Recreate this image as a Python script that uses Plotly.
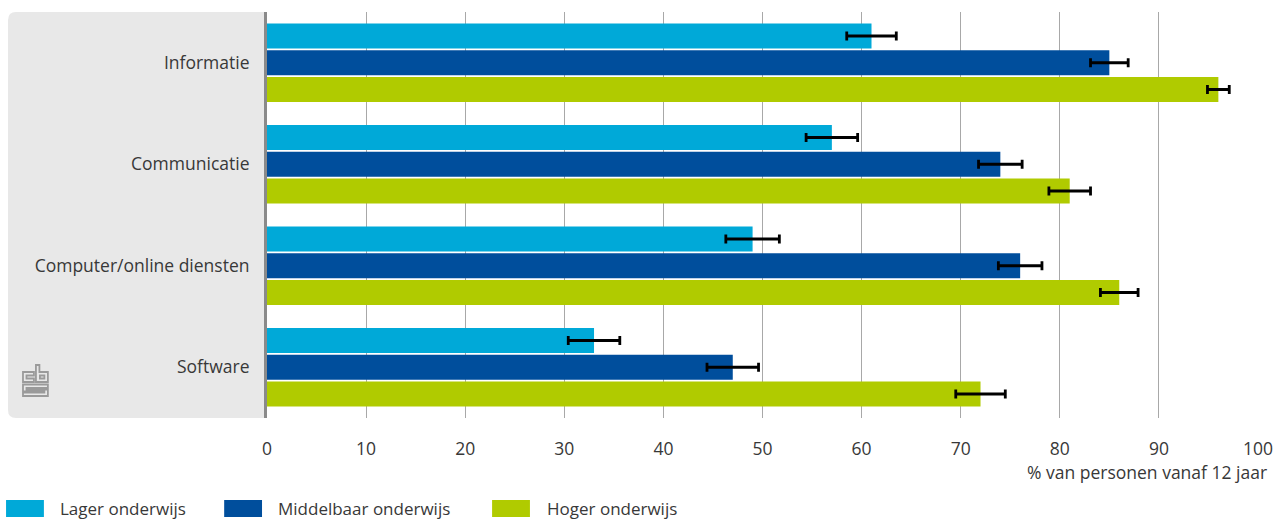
import plotly.graph_objects as go

# Internet use by level of education, % of persons aged 12 and over
categories = ["Informatie", "Communicatie", "Computer/online diensten", "Software"]

lager = [61, 57, 49, 33]
lager_err = [2.5, 2.6, 2.7, 2.6]

middelbaar = [85, 74, 76, 47]
middelbaar_err = [1.9, 2.2, 2.2, 2.6]

hoger = [96, 81, 86, 72]
hoger_err = [1.1, 2.1, 1.9, 2.5]

series_names = ["Lager onderwijs", "Middelbaar onderwijs", "Hoger onderwijs"]
series_colors = ["#00A9D8", "#004E9C", "#B0CB00"]

x_ticks = [0, 10, 20, 30, 40, 50, 60, 70, 80, 90, 100]
x_title = "% van personen vanaf 12 jaar"

W, H = 1285, 519
ML, MR, MT, MB = 267, 23, 12, 101
PW, PH = W - ML - MR, H - MT - MB

FONT = "Open Sans, Noto Sans, sans-serif"
TEXT = "#383838"
FS = 17.5


def px(x):
    return (x - ML) / PW


def py(y):
    return (H - MB - y) / PH


def path_from_px(cmds):
    """Build an SVG path in paper units from a list of (cmd, coords...) in pixels."""
    out = []
    for c in cmds:
        op, vals = c[0], c[1:]
        if op in ("M", "L"):
            out.append(f"{op}{px(vals[0]):.5f},{py(vals[1]):.5f}")
        elif op == "H":
            out.append(f"H{px(vals[0]):.5f}")
        elif op == "V":
            out.append(f"V{py(vals[0]):.5f}")
        elif op == "Q":
            out.append(
                f"Q{px(vals[0]):.5f},{py(vals[1]):.5f} {px(vals[2]):.5f},{py(vals[3]):.5f}"
            )
        elif op == "Z":
            out.append("Z")
    return " ".join(out)


fig = go.Figure()
for name, vals, errs, color in zip(
    series_names,
    [lager, middelbaar, hoger],
    [lager_err, middelbaar_err, hoger_err],
    series_colors,
):
    fig.add_trace(
        go.Bar(
            y=categories,
            x=vals,
            name=name,
            orientation="h",
            marker=dict(color=color, line=dict(width=0)),
            error_x=dict(type="data", array=errs, color="#000000", thickness=2.8, width=4.5),
            showlegend=False,
            hoverinfo="x+name",
        )
    )

shapes = []

# grey label panel with rounded left corners
panel = path_from_px([
    ("M", 266, 12), ("H", 15), ("Q", 7, 12, 7, 20), ("V", 410),
    ("Q", 7, 418, 15, 418), ("H", 266), ("Z",),
])
shapes.append(dict(type="path", xref="paper", yref="paper", path=panel,
                   fillcolor="#E8E8E8", line=dict(width=0), layer="below"))

# small cbs emblem in the panel
logo_paths = [
    [("M", 22, 372), ("H", 33), ("V", 375.5), ("H", 25.5), ("V", 378.5), ("H", 33), ("V", 382), ("H", 22), ("Z",)],
    [("M", 35, 365), ("H", 38.5), ("V", 372), ("H", 47), ("V", 382), ("H", 35), ("Z",)],
    [("M", 39, 375.5), ("H", 43.5), ("V", 378.5), ("H", 39), ("Z",)],
    [("M", 22, 384.5), ("H", 47), ("V", 388), ("H", 25.5), ("V", 389.5), ("H", 47), ("V", 396),
     ("H", 22), ("V", 392.5), ("H", 43.5), ("V", 391.5), ("H", 22), ("Z",)],
]
for p in logo_paths:
    shapes.append(dict(type="path", xref="paper", yref="paper", path=path_from_px(p),
                       fillcolor="rgba(0,0,0,0)", line=dict(color="#9A9A9A", width=1.8)))

# legend swatches
legend_pos = [(5, 57), (224, 276), (493, 546)]
annotations = []
for (sx, tx), name, color in zip(legend_pos, series_names, series_colors):
    shapes.append(dict(type="rect", xref="paper", yref="paper",
                       x0=px(sx), x1=px(sx + 38), y0=py(517), y1=py(500),
                       fillcolor=color, line=dict(width=0)))
    annotations.append(dict(text=name, xref="paper", yref="paper", x=px(tx), y=py(509),
                            xanchor="left", yanchor="middle", showarrow=False,
                            font=dict(family=FONT, size=17, color=TEXT)))

annotations.append(dict(text=x_title, xref="paper", yref="paper", x=px(1273), y=py(472),
                        xanchor="right", yanchor="middle", showarrow=False,
                        font=dict(family=FONT, size=FS, color=TEXT)))

fig.update_layout(
    width=W, height=H,
    margin=dict(l=ML, r=MR, t=MT, b=MB, pad=0),
    paper_bgcolor="white",
    plot_bgcolor="white",
    barmode="group",
    bargap=0.21,
    bargroupgap=0.07,
    font=dict(family=FONT, size=FS, color=TEXT),
    shapes=shapes,
    annotations=annotations,
    xaxis=dict(
        range=[0, 100],
        tickvals=x_ticks,
        ticktext=[str(t) for t in x_ticks],
        showgrid=True,
        gridcolor="#A8A8A8",
        gridwidth=1,
        zeroline=False,
        showline=False,
        ticks="outside",
        ticklen=15,
        tickcolor="rgba(0,0,0,0)",
        tickfont=dict(family=FONT, size=FS, color=TEXT),
        fixedrange=True,
    ),
    yaxis=dict(
        autorange="reversed",
        showgrid=False,
        zeroline=False,
        showline=True,
        linecolor="#8A8A8A",
        linewidth=3,
        ticks="",
        ticklabelstandoff=11,
        tickfont=dict(family=FONT, size=FS, color=TEXT),
        fixedrange=True,
    ),
)

fig.write_html("out.html")
